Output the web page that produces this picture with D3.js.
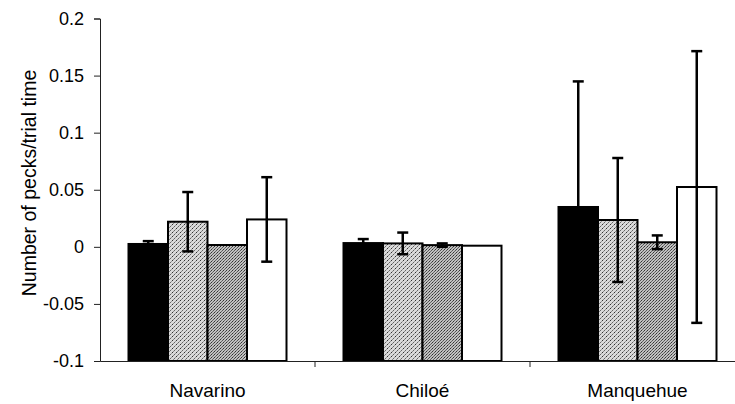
<!DOCTYPE html>
<html>
<head>
<meta charset="utf-8">
<script src="https://cdn.jsdelivr.net/npm/d3@7"></script>
<style>
  body { margin: 0; background: #fff; }
  svg { display: block; font-family: "Liberation Sans", Arial, sans-serif; }
</style>
</head>
<body>
<div id="chart"></div>
<script>
// sites on the x axis
const categories = ['Navarino', 'Chiloé', 'Manquehue'];
// four treatments (no legend in the figure)
const seriesKeys = ['t1', 't2', 't3', 't4'];
// mean pecks/trial time, one row per site
const means = [
    [0.0025, 0.022, 0.0016, 0.024],
    [0.0033, 0.003, 0.0015, 0.001],
    [0.0349, 0.0235, 0.004, 0.0524]
];
// error bar half-lengths
const errors = [
    [0.0025, 0.026, 0, 0.037],
    [0.0035, 0.0095, 0.0015, 0],
    [0.110, 0.0543, 0.006, 0.119]
];
const yTicks = [-0.1, -0.05, 0, 0.05, 0.1, 0.15, 0.2];

const W = 735, H = 404;
const svg = d3.select('#chart').append('svg')
    .attr('width', W)
    .attr('height', H);

const defs = svg.append('defs');

// light stipple
let p1 = defs.append('pattern').attr('id', 'stip1')
    .attr('patternUnits', 'userSpaceOnUse').attr('width', 4).attr('height', 4);
p1.append('rect').attr('width', 4).attr('height', 4).attr('fill', '#dadada');
p1.append('rect').attr('x', 0).attr('y', 0).attr('width', 1).attr('height', 1).attr('fill', '#333');
p1.append('rect').attr('x', 2).attr('y', 2).attr('width', 1).attr('height', 1).attr('fill', '#666');
p1.append('rect').attr('x', 1).attr('y', 3).attr('width', 1).attr('height', 1).attr('fill', '#888');
p1.append('rect').attr('x', 3).attr('y', 1).attr('width', 1).attr('height', 1).attr('fill', '#999');

// darker stipple
let p2 = defs.append('pattern').attr('id', 'stip2')
    .attr('patternUnits', 'userSpaceOnUse').attr('width', 3).attr('height', 3);
p2.append('rect').attr('width', 3).attr('height', 3).attr('fill', '#c0c0c0');
p2.append('rect').attr('x', 0).attr('y', 0).attr('width', 1).attr('height', 1).attr('fill', '#333');
p2.append('rect').attr('x', 2).attr('y', 1).attr('width', 1).attr('height', 1).attr('fill', '#555');
p2.append('rect').attr('x', 1).attr('y', 2).attr('width', 1).attr('height', 1).attr('fill', '#666');

const fills = ['#000', 'url(#stip1)', 'url(#stip2)', '#fff'];

const mLeft = 100, mTop = 18.5, mBottom = 361;

const y = d3.scaleLinear().domain([-0.1, 0.2]).range([mBottom, mTop]);
const x0 = d3.scaleBand().domain(categories).range([mLeft, mLeft + 215 * 3]);
const x1 = d3.scaleBand().domain(seriesKeys).range([28.5, 186.5]);

// y axis
const yAxis = d3.axisLeft(y)
    .tickValues(yTicks)
    .tickFormat(d => String(+d.toFixed(2)))
    .tickSize(6)
    .tickPadding(10);

svg.append('g')
    .attr('class', 'axis axis--y')
    .attr('transform', `translate(${mLeft},0)`)
    .call(yAxis)
    .call(g => g.selectAll('text').attr('font-size', 18).attr('fill', '#000'))
    .call(g => g.selectAll('line, path').attr('stroke', '#222'));

// bars
const groups = svg.append('g').selectAll('g')
    .data(categories)
    .join('g')
    .attr('transform', d => `translate(${x0(d)},0)`);

groups.selectAll('rect')
    .data((c, i) => seriesKeys.map((k, j) => ({ key: k, j: j, v: means[i][j], e: errors[i][j] })))
    .join('rect')
    .attr('x', d => x1(d.key))
    .attr('y', d => y(d.v))
    .attr('width', x1.bandwidth())
    .attr('height', d => y(-0.1) - y(d.v))
    .attr('fill', d => fills[d.j])
    .attr('stroke', '#000')
    .attr('stroke-width', 2);

// error bars
const eb = groups.selectAll('g.err')
    .data((c, i) => seriesKeys.map((k, j) => ({ key: k, v: means[i][j], e: errors[i][j] })).filter(d => d.e > 0))
    .join('g')
    .attr('class', 'err')
    .attr('transform', d => `translate(${x1(d.key) + x1.bandwidth() / 2},0)`)
    .attr('stroke', '#000')
    .attr('stroke-width', 2.5);

eb.append('line')
    .attr('y1', d => y(d.v - d.e))
    .attr('y2', d => y(d.v + d.e));
eb.append('line')
    .attr('x1', -5.5).attr('x2', 5.5)
    .attr('y1', d => y(d.v + d.e))
    .attr('y2', d => y(d.v + d.e));
eb.append('line')
    .attr('x1', -5.5).attr('x2', 5.5)
    .attr('y1', d => y(d.v - d.e))
    .attr('y2', d => y(d.v - d.e));

// x axis
const xAxis = d3.axisBottom(x0).tickSize(0).tickPadding(22.5);
svg.append('g')
    .attr('class', 'axis axis--x')
    .attr('transform', `translate(0,${mBottom})`)
    .call(xAxis)
    .call(g => g.select('.domain').attr('stroke', '#222'))
    .call(g => g.selectAll('text').attr('font-size', 19).attr('fill', '#000'));

// tick marks between categories
svg.append('g').selectAll('line')
    .data(categories.slice(1))
    .join('line')
    .attr('x1', d => x0(d)).attr('x2', d => x0(d))
    .attr('y1', mBottom).attr('y2', mBottom + 6)
    .attr('stroke', '#222');

// y title
svg.append('text')
    .attr('transform', `translate(36,183) rotate(-90)`)
    .attr('text-anchor', 'middle')
    .attr('font-size', 19.5)
    .attr('fill', '#000')
    .text('Number of pecks/trial time');
</script>
</body>
</html>
